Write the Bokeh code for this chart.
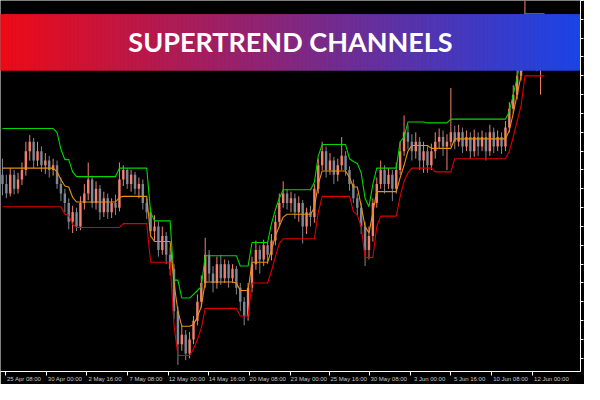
from bokeh.plotting import figure
from bokeh.models import Range1d, FixedTicker, SingleIntervalTicker, CustomJSTickFormatter, LinearAxis
from bokeh.core.properties import value
from bokeh.embed import file_html
from bokeh.resources import INLINE
import numpy as np

# ---------------- data (H4 candles, price) ----------------
opens = [
    1.3215, 1.3205, 1.3195, 1.3215, 1.3200, 1.3210, 1.3220, 1.3240, 1.3250, 1.3230,
    1.3240, 1.3225, 1.3230, 1.3220, 1.3225, 1.3205, 1.3195, 1.3185, 1.3165, 1.3175,
    1.3160, 1.3185, 1.3195, 1.3210, 1.3185, 1.3200, 1.3175, 1.3190, 1.3175, 1.3185,
    1.3180, 1.3210, 1.3220, 1.3205, 1.3215, 1.3200, 1.3205, 1.3185, 1.3175, 1.3155,
    1.3160, 1.3135, 1.3150, 1.3130, 1.3115, 1.3070, 1.3035, 1.3045, 1.3025, 1.3040,
    1.3060, 1.3080, 1.3100, 1.3130, 1.3110, 1.3100, 1.3120, 1.3105, 1.3120, 1.3105,
    1.3115, 1.3095, 1.3080, 1.3065, 1.3095, 1.3120, 1.3135, 1.3125, 1.3140, 1.3130,
    1.3145, 1.3165, 1.3185, 1.3195, 1.3185, 1.3190, 1.3175, 1.3185, 1.3160, 1.3175,
    1.3170, 1.3200, 1.3225, 1.3240, 1.3220, 1.3230, 1.3215, 1.3225, 1.3235, 1.3220,
    1.3205, 1.3190, 1.3180, 1.3160, 1.3135, 1.3150, 1.3185, 1.3205, 1.3220, 1.3205,
    1.3215, 1.3200, 1.3220, 1.3240, 1.3260, 1.3250, 1.3240, 1.3250, 1.3230, 1.3240,
    1.3225, 1.3240, 1.3250, 1.3255, 1.3245, 1.3250, 1.3260, 1.3250, 1.3260, 1.3245,
    1.3255, 1.3240, 1.3255, 1.3245, 1.3255, 1.3240, 1.3260, 1.3245, 1.3255, 1.3245,
    1.3265, 1.3285, 1.3300, 1.3320, 1.3345, 1.3375, 1.3355, 1.3370, 1.3340, 1.3355,
]
closes = [
    1.3205, 1.3195, 1.3215, 1.3200, 1.3210, 1.3220, 1.3240, 1.3250, 1.3230, 1.3240,
    1.3225, 1.3230, 1.3220, 1.3225, 1.3205, 1.3195, 1.3185, 1.3165, 1.3175, 1.3160,
    1.3185, 1.3195, 1.3210, 1.3185, 1.3200, 1.3175, 1.3190, 1.3175, 1.3185, 1.3180,
    1.3210, 1.3220, 1.3205, 1.3215, 1.3200, 1.3205, 1.3185, 1.3175, 1.3155, 1.3160,
    1.3135, 1.3150, 1.3130, 1.3115, 1.3070, 1.3035, 1.3045, 1.3025, 1.3040, 1.3060,
    1.3080, 1.3100, 1.3130, 1.3110, 1.3100, 1.3120, 1.3105, 1.3120, 1.3105, 1.3115,
    1.3095, 1.3080, 1.3065, 1.3095, 1.3120, 1.3135, 1.3125, 1.3140, 1.3130, 1.3145,
    1.3165, 1.3185, 1.3195, 1.3185, 1.3190, 1.3175, 1.3185, 1.3160, 1.3175, 1.3170,
    1.3200, 1.3225, 1.3240, 1.3220, 1.3230, 1.3215, 1.3225, 1.3235, 1.3220, 1.3205,
    1.3190, 1.3180, 1.3160, 1.3135, 1.3150, 1.3185, 1.3205, 1.3220, 1.3205, 1.3215,
    1.3200, 1.3220, 1.3240, 1.3260, 1.3250, 1.3240, 1.3250, 1.3230, 1.3240, 1.3225,
    1.3240, 1.3250, 1.3255, 1.3245, 1.3250, 1.3260, 1.3250, 1.3260, 1.3245, 1.3255,
    1.3240, 1.3255, 1.3245, 1.3255, 1.3240, 1.3260, 1.3245, 1.3255, 1.3245, 1.3265,
    1.3285, 1.3300, 1.3320, 1.3345, 1.3375, 1.3355, 1.3370, 1.3340, 1.3355, 1.3340,
]
highs = [
    1.3232, 1.3215, 1.3222, 1.3220, 1.3217, 1.3228, 1.3250, 1.3257, 1.3254, 1.3250,
    1.3245, 1.3238, 1.3235, 1.3232, 1.3230, 1.3212, 1.3200, 1.3190, 1.3182, 1.3180,
    1.3192, 1.3205, 1.3228, 1.3214, 1.3208, 1.3204, 1.3197, 1.3195, 1.3190, 1.3194,
    1.3228, 1.3225, 1.3222, 1.3220, 1.3218, 1.3212, 1.3210, 1.3190, 1.3180, 1.3172,
    1.3165, 1.3160, 1.3154, 1.3138, 1.3120, 1.3075, 1.3055, 1.3050, 1.3048, 1.3065,
    1.3088, 1.3108, 1.3148, 1.3135, 1.3118, 1.3128, 1.3130, 1.3125, 1.3124, 1.3120,
    1.3118, 1.3100, 1.3085, 1.3100, 1.3128, 1.3145, 1.3140, 1.3146, 1.3144, 1.3152,
    1.3172, 1.3195, 1.3208, 1.3200, 1.3197, 1.3195, 1.3192, 1.3188, 1.3180, 1.3182,
    1.3205, 1.3232, 1.3250, 1.3245, 1.3238, 1.3234, 1.3232, 1.3255, 1.3240, 1.3224,
    1.3210, 1.3195, 1.3185, 1.3165, 1.3160, 1.3190, 1.3212, 1.3230, 1.3225, 1.3222,
    1.3220, 1.3228, 1.3250, 1.3278, 1.3268, 1.3258, 1.3260, 1.3255, 1.3250, 1.3245,
    1.3248, 1.3260, 1.3264, 1.3262, 1.3258, 1.3307, 1.3267, 1.3268, 1.3265, 1.3262,
    1.3260, 1.3263, 1.3260, 1.3262, 1.3260, 1.3268, 1.3265, 1.3262, 1.3260, 1.3272,
    1.3292, 1.3310, 1.3328, 1.3355, 1.3400, 1.3385, 1.3380, 1.3375, 1.3365, 1.3362,
]
lows = [
    1.3193, 1.3190, 1.3192, 1.3194, 1.3195, 1.3204, 1.3214, 1.3230, 1.3222, 1.3224,
    1.3218, 1.3216, 1.3212, 1.3214, 1.3200, 1.3187, 1.3175, 1.3157, 1.3153, 1.3155,
    1.3156, 1.3178, 1.3188, 1.3180, 1.3178, 1.3167, 1.3170, 1.3168, 1.3169, 1.3172,
    1.3176, 1.3203, 1.3200, 1.3197, 1.3194, 1.3190, 1.3178, 1.3168, 1.3150, 1.3145,
    1.3128, 1.3130, 1.3120, 1.3108, 1.3062, 1.3013, 1.3028, 1.3018, 1.3020, 1.3035,
    1.3055, 1.3074, 1.3095, 1.3102, 1.3090, 1.3094, 1.3098, 1.3100, 1.3095, 1.3100,
    1.3088, 1.3070, 1.3055, 1.3060, 1.3090, 1.3114, 1.3110, 1.3118, 1.3120, 1.3124,
    1.3140, 1.3160, 1.3180, 1.3178, 1.3175, 1.3168, 1.3165, 1.3142, 1.3152, 1.3160,
    1.3164, 1.3195, 1.3220, 1.3212, 1.3215, 1.3205, 1.3208, 1.3220, 1.3214, 1.3198,
    1.3185, 1.3172, 1.3152, 1.3118, 1.3125, 1.3144, 1.3180, 1.3200, 1.3195, 1.3200,
    1.3187, 1.3195, 1.3215, 1.3235, 1.3242, 1.3230, 1.3232, 1.3220, 1.3217, 1.3217,
    1.3220, 1.3232, 1.3243, 1.3235, 1.3220, 1.3245, 1.3242, 1.3245, 1.3238, 1.3240,
    1.3232, 1.3234, 1.3235, 1.3240, 1.3230, 1.3235, 1.3238, 1.3240, 1.3237, 1.3240,
    1.3260, 1.3280, 1.3295, 1.3315, 1.3340, 1.3345, 1.3348, 1.3325, 1.3300, 1.3330,
]
# SuperTrend channel lines
upper_line = [
    1.3264, 1.3264, 1.3264, 1.3264, 1.3264, 1.3264, 1.3264, 1.3264, 1.3264, 1.3264,
    1.3264, 1.3264, 1.3264, 1.3264, 1.3260, 1.3242, 1.3231, 1.3231, 1.3218, 1.3213,
    1.3213, 1.3213, 1.3213, 1.3213, 1.3213, 1.3213, 1.3213, 1.3213, 1.3213, 1.3213,
    1.3222, 1.3222, 1.3222, 1.3222, 1.3222, 1.3222, 1.3222, 1.3222, 1.3175, 1.3166,
    1.3166, 1.3166, 1.3166, 1.3166, 1.3103, 1.3103, 1.3084, 1.3084, 1.3084, 1.3088,
    1.3092, 1.3096, 1.3129, 1.3129, 1.3129, 1.3129, 1.3129, 1.3129, 1.3129, 1.3129,
    1.3129, 1.3118, 1.3118, 1.3118, 1.3143, 1.3143, 1.3143, 1.3143, 1.3143, 1.3163,
    1.3178, 1.3190, 1.3199, 1.3199, 1.3199, 1.3199, 1.3199, 1.3199, 1.3199, 1.3199,
    1.3207, 1.3235, 1.3247, 1.3247, 1.3247, 1.3247, 1.3247, 1.3247, 1.3247, 1.3232,
    1.3229, 1.3227, 1.3217, 1.3190, 1.3181, 1.3205, 1.3222, 1.3222, 1.3222, 1.3222,
    1.3222, 1.3222, 1.3250, 1.3255, 1.3271, 1.3271, 1.3271, 1.3271, 1.3271, 1.3270,
    1.3270, 1.3270, 1.3270, 1.3270, 1.3270, 1.3274, 1.3274, 1.3274, 1.3274, 1.3274,
    1.3274, 1.3274, 1.3274, 1.3274, 1.3274, 1.3274, 1.3274, 1.3274, 1.3274, 1.3274,
    1.3282, 1.3300, 1.3318, 1.3340, 1.3386, 1.3386, 1.3386, 1.3386, 1.3386, 1.3386,
]
middle_line = [
    1.3222, 1.3222, 1.3222, 1.3222, 1.3222, 1.3222, 1.3222, 1.3222, 1.3222, 1.3222,
    1.3222, 1.3222, 1.3222, 1.3222, 1.3218, 1.3210, 1.3203, 1.3202, 1.3191, 1.3186,
    1.3186, 1.3186, 1.3186, 1.3186, 1.3186, 1.3186, 1.3186, 1.3186, 1.3186, 1.3186,
    1.3191, 1.3192, 1.3192, 1.3192, 1.3192, 1.3192, 1.3192, 1.3192, 1.3150, 1.3144,
    1.3144, 1.3144, 1.3144, 1.3144, 1.3100, 1.3070, 1.3054, 1.3054, 1.3054, 1.3056,
    1.3064, 1.3075, 1.3101, 1.3101, 1.3101, 1.3101, 1.3101, 1.3101, 1.3101, 1.3101,
    1.3100, 1.3092, 1.3092, 1.3092, 1.3122, 1.3122, 1.3122, 1.3122, 1.3122, 1.3135,
    1.3150, 1.3160, 1.3170, 1.3173, 1.3173, 1.3173, 1.3173, 1.3173, 1.3173, 1.3173,
    1.3180, 1.3205, 1.3219, 1.3219, 1.3219, 1.3219, 1.3219, 1.3219, 1.3219, 1.3212,
    1.3202, 1.3202, 1.3182, 1.3160, 1.3153, 1.3175, 1.3197, 1.3197, 1.3197, 1.3197,
    1.3197, 1.3197, 1.3212, 1.3225, 1.3240, 1.3246, 1.3246, 1.3246, 1.3246, 1.3246,
    1.3243, 1.3243, 1.3243, 1.3243, 1.3243, 1.3243, 1.3253, 1.3253, 1.3253, 1.3253,
    1.3253, 1.3253, 1.3253, 1.3253, 1.3253, 1.3253, 1.3253, 1.3253, 1.3253, 1.3253,
    1.3262, 1.3280, 1.3300, 1.3320, 1.3352, 1.3352, 1.3352, 1.3352, 1.3352, 1.3352,
]
lower_line = [
    1.3181, 1.3181, 1.3181, 1.3181, 1.3181, 1.3181, 1.3181, 1.3181, 1.3181, 1.3181,
    1.3181, 1.3181, 1.3181, 1.3181, 1.3181, 1.3181, 1.3173, 1.3172, 1.3162, 1.3159,
    1.3159, 1.3159, 1.3159, 1.3159, 1.3159, 1.3159, 1.3159, 1.3159, 1.3159, 1.3159,
    1.3159, 1.3163, 1.3163, 1.3163, 1.3163, 1.3163, 1.3163, 1.3163, 1.3122, 1.3122,
    1.3122, 1.3122, 1.3122, 1.3122, 1.3055, 1.3023, 1.3023, 1.3023, 1.3023, 1.3030,
    1.3040, 1.3052, 1.3073, 1.3073, 1.3073, 1.3073, 1.3073, 1.3073, 1.3073, 1.3073,
    1.3073, 1.3065, 1.3065, 1.3065, 1.3100, 1.3100, 1.3100, 1.3100, 1.3100, 1.3113,
    1.3128, 1.3142, 1.3147, 1.3147, 1.3147, 1.3147, 1.3147, 1.3147, 1.3147, 1.3147,
    1.3147, 1.3175, 1.3192, 1.3192, 1.3192, 1.3192, 1.3192, 1.3192, 1.3192, 1.3192,
    1.3176, 1.3172, 1.3160, 1.3127, 1.3127, 1.3127, 1.3160, 1.3171, 1.3171, 1.3171,
    1.3171, 1.3171, 1.3192, 1.3208, 1.3217, 1.3222, 1.3222, 1.3222, 1.3222, 1.3222,
    1.3222, 1.3218, 1.3218, 1.3218, 1.3218, 1.3218, 1.3232, 1.3232, 1.3232, 1.3232,
    1.3232, 1.3232, 1.3232, 1.3232, 1.3232, 1.3232, 1.3232, 1.3232, 1.3232, 1.3232,
    1.3240, 1.3255, 1.3272, 1.3288, 1.3320, 1.3320, 1.3320, 1.3320, 1.3320, 1.3320,
]
# time-axis labels (bar index where each label sits)
tick_pos = [0.75, 11.25, 21.5, 32.0, 42.5, 52.75, 63.25, 73.75, 84.0, 94.25,
            104.75, 115.0, 125.5, 136.0]
tick_labels = ["25 Apr 08:00", "30 Apr 00:00", "2 May 16:00", "7 May 08:00",
               "12 May 00:00", "14 May 16:00", "20 May 08:00", "23 May 00:00",
               "25 May 16:00", "30 May 08:00", "3 Jun 00:00", "5 Jun 16:00",
               "10 Jun 08:00", "12 Jun 00:00"]
title_text = "SUPERTREND CHANNELS"

# ---------------- figure ----------------
X0, X1 = -0.5, 148.25
Y0, Y1 = 1.3006, 1.3400
p = figure(width=584, height=384, x_range=Range1d(X0, X1), y_range=Range1d(Y0, Y1),
           output_backend="svg", toolbar_location=None, y_axis_location="right",
           background_fill_color="black", border_fill_color="black",
           outline_line_color=None, min_border_left=0, min_border_top=0,
           min_border_right=4, min_border_bottom=0)
p.grid.visible = False

idx = list(range(len(opens)))
UP, DOWN = "#f2806f", "#7f8794"
colors = [UP if c >= o else DOWN for o, c in zip(opens, closes)]
body_top = [max(o, c) for o, c in zip(opens, closes)]
body_bot = [min(o, c) for o, c in zip(opens, closes)]

p.segment(x0=idx, y0=lows, x1=idx, y1=highs, line_color=colors, line_width=1)
p.vbar(x=idx, width=0.62, top=body_top, bottom=body_bot, fill_color=colors, line_color=None)

p.line(idx, upper_line, line_color="#00d800", line_width=1.1)
p.line(idx, middle_line, line_color="#e8920a", line_width=1.1)
p.line(idx, lower_line, line_color="#dd0000", line_width=1.1)

# ---------------- gradient banner ----------------
BANNER_BOTTOM, BANNER_TOP, BANNER_MID = 1.3326, 1.3385, 1.3356
nstrip = 150
edges = np.linspace(X0, X1, nstrip + 1)
c0 = np.array([238, 10, 22])
c1 = np.array([26, 68, 232])
ts = (np.arange(nstrip) + 0.5) / nstrip
strip_cols = ["#%02x%02x%02x" % tuple(int(round(v)) for v in (c0 + (c1 - c0) * t)) for t in ts]
p.quad(left=edges[:-1], right=edges[1:], bottom=BANNER_BOTTOM, top=BANNER_TOP,
       fill_color=strip_cols, line_color=strip_cols, line_width=1)
p.text(x=[(X0 + X1) / 2], y=[BANNER_MID], text=[title_text], text_color="white",
       text_font=value("Lato"), text_font_style="bold", text_font_size="27px",
       text_align="center", text_baseline="middle")

# ---------------- axes ----------------
xa = p.xaxis[0]
xa.ticker = FixedTicker(ticks=tick_pos)
xa.formatter = CustomJSTickFormatter(code="return '';")
xa.axis_line_color = "white"
xa.major_tick_line_color = "white"
xa.major_tick_in = 0
xa.major_tick_out = 4
xa.minor_tick_line_color = None
xa.major_label_text_font_size = "0px"
xa.major_label_standoff = 0

# labels start just right of each tick (MetaTrader style)
LABEL_SHIFT = 4.8
label_pos = [t + LABEL_SHIFT for t in tick_pos]
xlab = LinearAxis(ticker=FixedTicker(ticks=label_pos),
                  formatter=CustomJSTickFormatter(args=dict(pos=label_pos, labs=tick_labels),
                      code="const i = pos.findIndex(q => Math.abs(q - tick) < 1e-6); return i >= 0 ? labs[i] : '';"))
xlab.axis_line_color = None
xlab.major_tick_line_color = None
xlab.minor_tick_line_color = None
xlab.major_tick_in = 0
xlab.major_tick_out = 0
xlab.major_label_text_color = "#c8c8c8"
xlab.major_label_text_font = "Liberation Sans"
xlab.major_label_text_font_size = "6px"
xlab.major_label_standoff = 0
p.add_layout(xlab, "below")

ya = p.yaxis[0]
ya.ticker = SingleIntervalTicker(interval=0.0020)
ya.formatter = CustomJSTickFormatter(code="return '';")
ya.axis_line_color = "white"
ya.major_tick_line_color = "white"
ya.major_tick_in = 0
ya.major_tick_out = 3
ya.minor_tick_line_color = None
ya.major_label_standoff = 0
ya.major_label_text_font_size = "0px"

open("out.html", "w").write(file_html(p, INLINE))
